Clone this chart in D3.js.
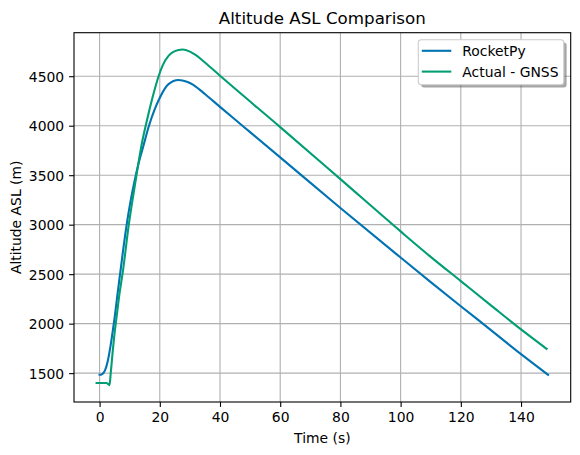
<!DOCTYPE html>
<html>
<head>
    <title>Altitude ASL Comparison</title>
    <script src="https://cdn.jsdelivr.net/npm/d3@7"></script>
    <style>
        body { margin: 0; background: #fff; }
        svg { display: block; font-family: "DejaVu Sans", sans-serif; }
        .grid line { stroke: #b0b0b0; stroke-width: 1.1px; }
    </style>
</head>
<body>
    <svg id="chart" width="580" height="455"></svg>

    <script>
        // RocketPy simulation
        const simTime = [0, 0.7, 1.8, 2.7, 3.5, 4.3, 5.0, 5.8, 6.8, 7.9, 9.0, 10.3, 11.6, 13.0, 14.5, 16.4, 18.3, 20, 22.9, 26.2, 29, 31, 33, 35, 40, 45, 50, 60, 80, 100, 110, 120, 130, 140, 149];
        const simAlt = [1484, 1487, 1527, 1620, 1750, 1910, 2060, 2260, 2500, 2760, 3000, 3240, 3440, 3625, 3790, 4000, 4165, 4283, 4420, 4462, 4445, 4415, 4370, 4320, 4190, 4062, 3935, 3680, 3168, 2668, 2420, 2176, 1935, 1692, 1483];

        // GNSS flight data
        const gnssTime = [-1, 0, 1, 2.2, 2.8, 3.3, 3.7, 4.3, 5.0, 5.7, 6.6, 7.7, 9.7, 12.0, 13.0, 14.2, 15.4, 17.5, 19.6, 21, 22.9, 24.5, 26.2, 27.6, 30, 32, 35, 40, 43.3, 60, 80, 100, 110, 120, 130, 140, 148.5];
        const gnssAlt = [1400, 1400, 1401, 1400, 1392, 1378, 1500, 1700, 1910, 2080, 2300, 2520, 3000, 3450, 3640, 3846, 4010, 4275, 4500, 4612, 4705, 4745, 4765, 4770, 4748, 4712, 4638, 4505, 4418, 3986, 3460, 2932, 2675, 2430, 2185, 1942, 1746];

        const xTicks = [0, 20, 40, 60, 80, 100, 120, 140];
        const yTicks = [1500, 2000, 2500, 3000, 3500, 4000, 4500];

        const seriesNames = ["RocketPy", "Actual - GNSS"];
        const seriesColors = ["#0173b2", "#029e73"];

        const series = [
            { name: seriesNames[0], color: seriesColors[0], pts: simTime.map((t, i) => [t, simAlt[i]]) },
            { name: seriesNames[1], color: seriesColors[1], pts: gnssTime.map((t, i) => [t, gnssAlt[i]]) }
        ];

        const svg = d3.select("#chart");
        const axLeft = 74, axRight = 570.7, axTop = 32.7, axBottom = 402;

        // matplotlib style 5% margins
        function padded(vals) {
            const [a, b] = d3.extent(vals);
            const m = (b - a) * 0.05;
            return [a - m, b + m];
        }
        const x = d3.scaleLinear().domain(padded(simTime.concat(gnssTime))).range([axLeft, axRight]);
        const y = d3.scaleLinear().domain(padded(simAlt.concat(gnssAlt))).range([axBottom, axTop]);

        // grid
        const grid = svg.append("g").attr("class", "grid");
        grid.selectAll(".gx").data(xTicks).enter().append("line")
            .attr("x1", d => x(d)).attr("x2", d => x(d))
            .attr("y1", axTop).attr("y2", axBottom);
        grid.selectAll(".gy").data(yTicks).enter().append("line")
            .attr("x1", axLeft).attr("x2", axRight)
            .attr("y1", d => y(d)).attr("y2", d => y(d));

        // lines
        const line = d3.line().x(d => x(d[0])).y(d => y(d[1])).curve(d3.curveMonotoneX);
        svg.append("g").selectAll("path").data(series).enter().append("path")
            .attr("d", d => line(d.pts))
            .attr("fill", "none")
            .attr("stroke", d => d.color)
            .attr("stroke-width", 2.1)
            .attr("stroke-linecap", "square");

        // axes
        const xAxis = d3.axisBottom(x).tickValues(xTicks).tickSize(4.9).tickPadding(4.9).tickFormat(d3.format("d"));
        const yAxis = d3.axisLeft(y).tickValues(yTicks).tickSize(4.9).tickPadding(4.9).tickFormat(d3.format("d"));
        const gx = svg.append("g").attr("transform", `translate(0,${axBottom})`).call(xAxis);
        const gy = svg.append("g").attr("transform", `translate(${axLeft},0)`).call(yAxis);
        [gx, gy].forEach(g => {
            g.select(".domain").remove();
            g.selectAll("line").attr("stroke", "#000").attr("stroke-width", 1.1);
            g.selectAll("text").attr("fill", "#000").style("font-size", "13.9px")
                .style("font-family", "DejaVu Sans, sans-serif");
        });
        gy.selectAll("text").attr("dy", "0.36em");
        gx.selectAll("text").attr("dy", "0.76em");

        // frame
        svg.append("rect")
            .attr("x", axLeft).attr("y", axTop)
            .attr("width", axRight - axLeft).attr("height", axBottom - axTop)
            .attr("fill", "none").attr("stroke", "#000").attr("stroke-width", 1.1);

        // labels
        svg.append("text").attr("x", (axLeft + axRight) / 2).attr("y", 24)
            .attr("text-anchor", "middle").style("font-size", "16.7px")
            .text("Altitude ASL Comparison");
        svg.append("text").attr("x", (axLeft + axRight) / 2).attr("y", 443)
            .attr("text-anchor", "middle").style("font-size", "13.9px")
            .text("Time (s)");
        svg.append("text")
            .attr("transform", `translate(21,${(axTop + axBottom) / 2}) rotate(-90)`)
            .attr("text-anchor", "middle").style("font-size", "13.9px")
            .text("Altitude ASL (m)");

        // legend with shadow
        const lg = svg.append("g").attr("transform", "translate(418.3,39.8)");
        const lw = 145.5, lh = 45;
        lg.append("rect").attr("x", 2.8).attr("y", 2.8).attr("width", lw).attr("height", lh)
            .attr("rx", 3).attr("fill", "#4d4d4d").attr("opacity", 0.5);
        lg.append("rect").attr("width", lw).attr("height", lh).attr("rx", 3)
            .attr("fill", "#fff").attr("stroke", "#cccccc").attr("stroke-width", 1.1);
        series.forEach((s, i) => {
            const ly = 11 + i * 20.8;
            lg.append("line").attr("x1", 3.5).attr("x2", 33).attr("y1", ly).attr("y2", ly)
                .attr("stroke", s.color).attr("stroke-width", 2.1);
            lg.append("text").attr("x", 44).attr("y", ly + 5)
                .style("font-size", "13.9px").text(s.name);
        });
    </script>
</body>
</html>
